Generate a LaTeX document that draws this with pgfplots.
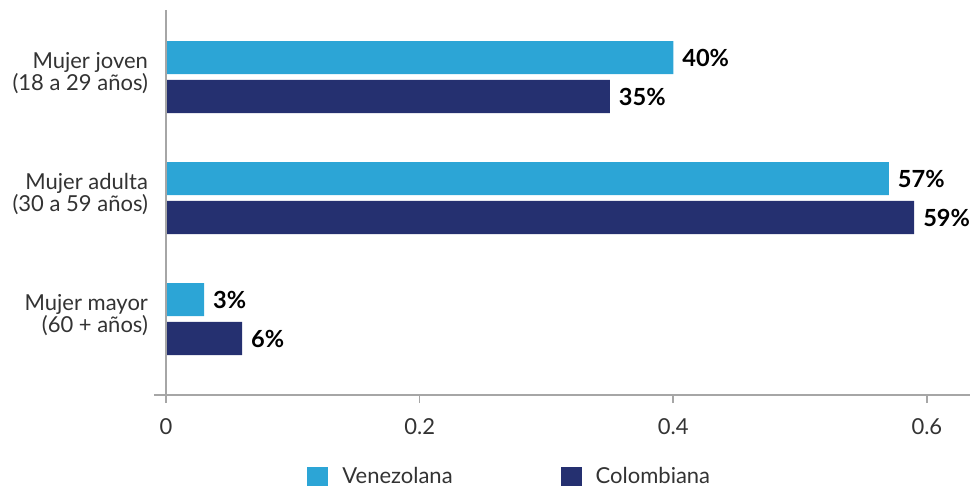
\documentclass[border=0pt]{standalone}
\usepackage{pgfplots}
\pgfplotsset{compat=1.18}
\usepackage{fontspec}
\setmainfont{Lato}
\definecolor{venez}{HTML}{2CA5D6}
\definecolor{colom}{HTML}{253070}
\definecolor{axgray}{HTML}{A6A6A6}
\definecolor{txt}{HTML}{333333}
\begin{document}
\begin{tikzpicture}
\begin{axis}[
  name=ax, at={(0,0)}, anchor=south west,
  scale only axis, width=408pt, height=192.5pt,
  xmin=-0.0095, xmax=0.634,
  ymin=-0.554, ymax=2.628, y dir=reverse,
  xbar, bar width=0.273,
  axis x line*=bottom, axis y line*=left,
  x axis line style={axgray, line width=0.8pt},
  y axis line style={draw=none},
  ytick={0,1,2},
  yticklabels={{Mujer joven\\(18 a 29 años)},{Mujer adulta\\(30 a 59 años)},{Mujer mayor\\(60 + años)}},
  yticklabel style={align=right, text=txt, font=\fontsize{11}{11}\selectfont, xshift=4.5pt, yshift=2pt},
  ytick style={draw=none},
  xtick={0,0.2,0.4,0.6},
  xticklabels={0,0.2,0.4,0.6},
  xtick style={axgray, line width=0.8pt},
  tick align=outside, major tick length=4pt,
  xticklabel style={text=txt, font=\fontsize{11}{11}\selectfont, yshift=-4pt},
  point meta=explicit symbolic,
  nodes near coords,
  nodes near coords style={font=\bfseries\fontsize{11.8}{12}\selectfont, text=black, anchor=west, xshift=1pt},
  legend style={at={(0.1875,0)}, anchor=west, yshift=-41pt, xshift=-3pt, draw=none,
    font=\fontsize{11}{11}\selectfont, text=txt,
    legend columns=2, /tikz/every even column/.append style={column sep=52pt}},
  legend image code/.code={\fill[#1,draw=none] (0pt,-5.25pt) rectangle (10.5pt,5.25pt); \path[draw=none,fill=none] (0pt,0pt) -- (15.5pt,0pt);},
  legend cell align=left,
  clip=false,
]
\addplot[fill=venez, draw=none, bar shift=-0.161] coordinates {(0.40,0) [40\%] (0.57,1) [57\%] (0.03,2) [3\%]};
\addlegendentry{Venezolana}
\addplot[fill=colom, draw=none, bar shift=0.161] coordinates {(0.35,0) [35\%] (0.59,1) [59\%] (0.06,2) [6\%]};
\addlegendentry{Colombiana}
\draw[axgray, line width=0.8pt] (axis cs:0,-0.554) -- (axis cs:0,2.628);
\end{axis}
\pgfresetboundingbox
\useasboundingbox ([shift={(-77pt,-45.5pt)}]ax.south west) rectangle ([yshift=5pt]ax.north east);
\end{tikzpicture}
\end{document}
